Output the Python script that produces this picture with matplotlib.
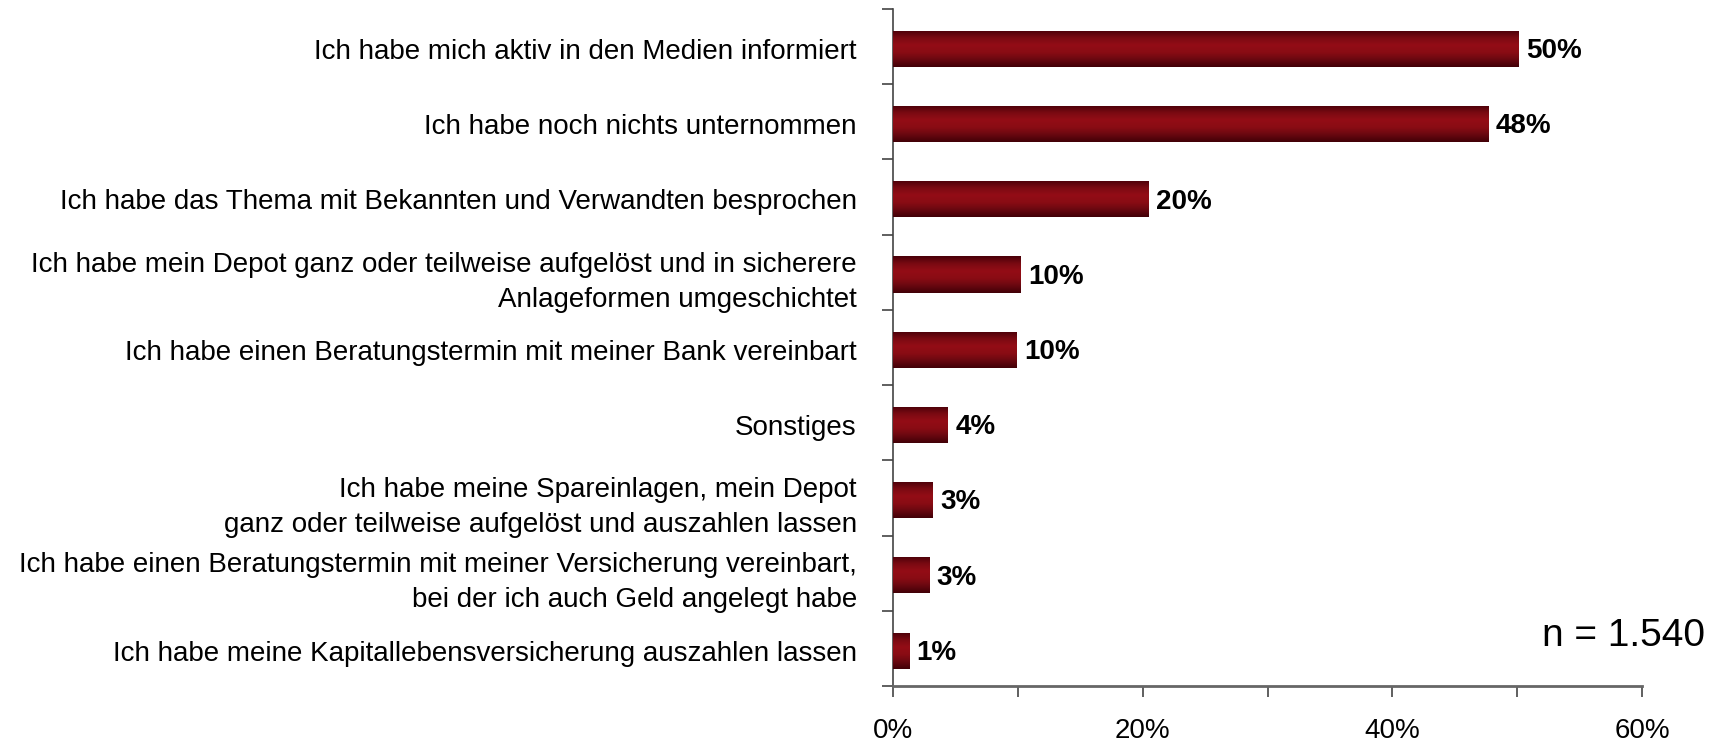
import matplotlib
matplotlib.use("Agg")
import matplotlib.pyplot as plt
import numpy as np
from matplotlib.colors import LinearSegmentedColormap
from matplotlib.ticker import FixedLocator, FuncFormatter

categories = [
    "Ich habe mich aktiv in den Medien informiert",
    "Ich habe noch nichts unternommen",
    "Ich habe das Thema mit Bekannten und Verwandten besprochen",
    "Ich habe mein Depot ganz oder teilweise aufgelöst und in sicherere\nAnlageformen umgeschichtet",
    "Ich habe einen Beratungstermin mit meiner Bank vereinbart",
    "Sonstiges",
    "Ich habe meine Spareinlagen, mein Depot\nganz oder teilweise aufgelöst und auszahlen lassen",
    "Ich habe einen Beratungstermin mit meiner Versicherung vereinbart,\nbei der ich auch Geld angelegt habe",
    "Ich habe meine Kapitallebensversicherung auszahlen lassen",
]
values = [50.1, 47.7, 20.5, 10.2, 9.9, 4.4, 3.2, 2.9, 1.3]
value_labels = ["50%", "48%", "20%", "10%", "10%", "4%", "3%", "3%", "1%"]
xticks = [0, 20, 40, 60]
xtick_labels = ["0%", "20%", "40%", "60%"]
n_text = "n = 1.540"

FONT = ["Liberation Sans Narrow", "Liberation Sans", "DejaVu Sans"]
plt.rcParams["font.family"] = FONT

fig = plt.figure(figsize=(17.19, 7.44), dpi=100)
ax = fig.add_axes([893/1719, 58/744, (1642-893)/1719, (735-58)/744])

y = np.arange(len(categories)) + 0.03
bars = ax.barh(y, values, height=0.48, color="#7a0a12", zorder=2)

cmap = LinearSegmentedColormap.from_list(
    "g", ["#4a0009", "#7a0a12", "#930d16", "#8a0c14", "#6a0810", "#420007"])
grad = np.linspace(0, 1, 64).reshape(-1, 1)
for b in bars:
    x0, y0 = b.get_x(), b.get_y()
    w, h = b.get_width(), b.get_height()
    im = ax.imshow(grad, cmap=cmap, aspect="auto",
                   extent=(x0, x0 + w, y0 + h, y0), zorder=3,
                   interpolation="bilinear")
    im.set_clip_path(b)
    b.set_alpha(0)

for yi, v, lab in zip(y, values, value_labels):
    ax.text(v + 0.6, yi + 0.03, lab, va="center", ha="left",
            fontsize=20, fontweight="bold", color="black")

ax.set_xlim(0, 60)
ax.set_ylim(len(categories) - 0.5, -0.5)
ax.set_yticks(np.arange(len(categories) + 1) - 0.5)
ax.set_yticklabels([])
ax.set_yticks(y, minor=True)
ax.set_yticklabels(categories, minor=True, fontsize=20, linespacing=1.45)
ax.tick_params(axis="y", which="minor", length=0, pad=26)
ax.tick_params(axis="y", which="major", length=8, width=1.2, color="#444444")

label_map = dict(zip(xticks, xtick_labels))
ax.xaxis.set_major_locator(FixedLocator(np.arange(0, 61, 10)))
ax.xaxis.set_major_formatter(FuncFormatter(lambda v, p: label_map.get(int(round(v)), "")))
ax.tick_params(axis="x", which="major", length=8, width=1.2, color="#444444",
               labelsize=20, pad=15)

for s in ["top", "right"]:
    ax.spines[s].set_visible(False)
ax.spines["left"].set_color("#444444")
ax.spines["bottom"].set_color("#666666")
ax.spines["left"].set_linewidth(1.2)
ax.spines["bottom"].set_linewidth(2)

fig.text(1705/1719, 1 - 636/744, n_text, ha="right", va="center", fontsize=28)

fig.savefig("out.png", dpi=100)
